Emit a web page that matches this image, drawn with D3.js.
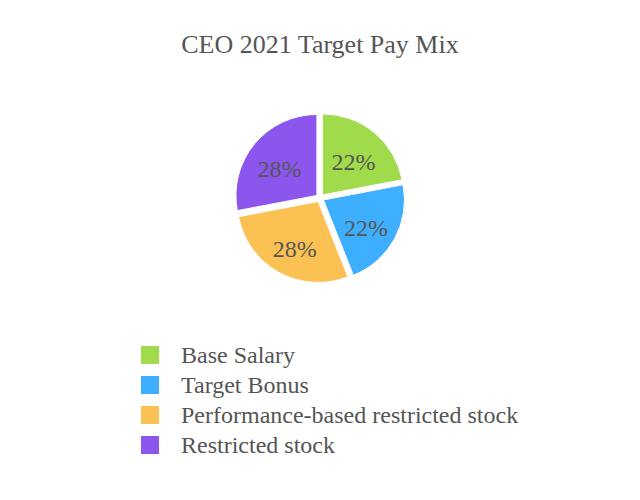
<!DOCTYPE html>
<html><head><meta charset="utf-8">
<script src="https://cdn.jsdelivr.net/npm/d3@7"></script>
<style>body{margin:0;background:#fff;} svg text{font-family:"Liberation Serif","Times New Roman",Times,serif;}</style>
</head><body>
<svg id="c" width="640" height="500"></svg>
<script>
const categories = ["Base Salary", "Target Bonus", "Performance-based restricted stock", "Restricted stock"];
const values = [22, 22, 28, 28];
const colors = ["#9fdb4a", "#3eafff", "#fcc153", "#8c56ee"];
const title = "CEO 2021 Target Pay Mix";

const svg = d3.select("#c");
const textColor = "#555";

svg.append("text").attr("x", 320).attr("y", 53).attr("text-anchor", "middle")
  .style("font-size", "26px").attr("fill", textColor).text(title);

const cx = 320, cy = 198, r = 81, off = 4;
const data = categories.map((c, i) => ({ c, v: values[i], col: colors[i] }));
const pie = d3.pie().value(d => d.v).sort(null);
const arc = d3.arc().innerRadius(0).outerRadius(r);
const labelArc = d3.arc().innerRadius(r * 0.6).outerRadius(r * 0.6);
const g = svg.append("g").attr("transform", `translate(${cx},${cy})`);
const slices = g.selectAll("g.s").data(pie(data)).enter().append("g")
  .attr("transform", d => {
    const a = (d.startAngle + d.endAngle) / 2;
    return `translate(${Math.sin(a) * off},${-Math.cos(a) * off})`;
  });
slices.append("path").attr("d", arc).attr("fill", d => d.data.col)
  .attr("stroke", "#fff").attr("stroke-width", 1);
slices.append("text")
  .attr("transform", d => `translate(${labelArc.centroid(d)})`)
  .attr("text-anchor", "middle").attr("dy", "0.52em")
  .style("font-size", "24px").attr("fill", textColor)
  .text(d => d.data.v + "%");

const lg = svg.append("g");
const rows = lg.selectAll("g").data(data).enter().append("g")
  .attr("transform", (d, i) => `translate(141,${346 + i * 30})`);
rows.append("rect").attr("width", 18).attr("height", 18).attr("fill", d => d.col);
rows.append("text").attr("x", 40).attr("y", 9).attr("dy", "0.35em")
  .style("font-size", "24px").attr("fill", textColor)
  .text(d => d.c);
</script>
</body></html>
